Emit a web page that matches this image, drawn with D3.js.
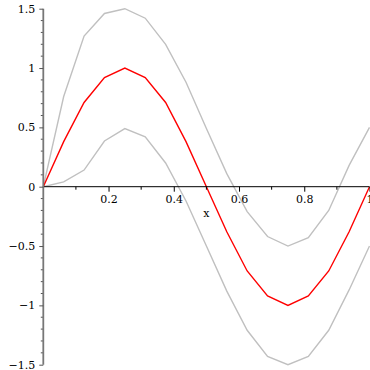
<!DOCTYPE html>
<html>
<head>
<meta charset="utf-8">
<script src="https://cdn.jsdelivr.net/npm/d3@7"></script>
<style>
  body { margin: 0; background: #fff; }
  text { font-family: "DejaVu Serif", serif; font-size: 11px; fill: #000; }
</style>
</head>
<body>
<svg id="chart" width="370" height="370"></svg>
<script>
// sample points x = k/16
var xs = [0, 0.0625, 0.125, 0.1875, 0.25, 0.3125, 0.375, 0.4375, 0.5,
          0.5625, 0.625, 0.6875, 0.75, 0.8125, 0.875, 0.9375, 1];
var mid = [0, 0.38, 0.71, 0.92, 1, 0.92, 0.71, 0.38, 0,
           -0.38, -0.71, -0.92, -1, -0.92, -0.71, -0.38, 0];
var upper = [0, 0.76, 1.27, 1.46, 1.5, 1.42, 1.2, 0.88, 0.49,
             0.11, -0.21, -0.42, -0.5, -0.43, -0.2, 0.18, 0.5];
var lower = [0, 0.04, 0.14, 0.385, 0.49, 0.42, 0.2, -0.12, -0.5,
             -0.88, -1.21, -1.43, -1.5, -1.43, -1.21, -0.87, -0.5];
var xTicks = [0.2, 0.4, 0.6, 0.8, 1];
var yTicks = [-1.5, -1, -0.5, 0, 0.5, 1, 1.5];
var xMinor = [0.1, 0.3, 0.5, 0.7, 0.9];

var svg = d3.select("#chart");

var x = d3.scaleLinear().domain([0, 1]).range([43.3, 369.5]);
var y = d3.scaleLinear().domain([-1.5, 1.5]).range([364.7, 8.7]);

var fmt = function(d) { return d < 0 ? "\u2212" + Math.abs(d) : "" + d; };

// curves
var line = d3.line()
    .x(function(d, i) { return x(xs[i]); })
    .y(function(d) { return y(d); });

svg.append("path").datum(upper)
    .attr("d", line).attr("fill", "none")
    .attr("stroke", "#c0c0c0").attr("stroke-width", 1.4);
svg.append("path").datum(lower)
    .attr("d", line).attr("fill", "none")
    .attr("stroke", "#c0c0c0").attr("stroke-width", 1.4);
svg.append("path").datum(mid)
    .attr("d", line).attr("fill", "none")
    .attr("stroke", "#ff0000").attr("stroke-width", 1.4);

// x axis through y = 0
var xAxis = svg.append("g")
    .attr("transform", "translate(0," + y(0) + ")");
xAxis.call(d3.axisBottom(x).tickValues(xTicks).tickSize(5).tickPadding(4).tickFormat(fmt))
    .call(function(g) { g.select(".domain").attr("stroke", "#000").attr("d", "M" + x(0) + ",0H" + x(1)); });
xAxis.selectAll(".tick text").attr("font-family", "DejaVu Serif").attr("font-size", 11);
xAxis.selectAll(".minor")
    .data(xMinor)
    .enter()
    .append("line")
    .attr("x1", function(d) { return x(d); })
    .attr("x2", function(d) { return x(d); })
    .attr("y1", 0).attr("y2", 3)
    .attr("stroke", "#000");

svg.append("text")
    .attr("x", x(0.5))
    .attr("y", 217)
    .attr("text-anchor", "middle")
    .text("x");

// y axis at x = 0
var yAxis = svg.append("g")
    .attr("transform", "translate(" + x(0) + ",0)");
var yMinor = d3.range(-15, 16).map(function(d) { return d / 10; })
    .filter(function(d) { return Math.round(d * 10) % 5 !== 0; });
yAxis.selectAll(".minor")
    .data(yMinor)
    .enter()
    .append("line")
    .attr("x1", -2.5).attr("x2", 0)
    .attr("y1", function(d) { return y(d); })
    .attr("y2", function(d) { return y(d); })
    .attr("stroke", "#555");
yAxis.call(d3.axisLeft(y).tickValues(yTicks).tickSize(4).tickPadding(4).tickFormat(fmt))
    .call(function(g) {
        g.select(".domain").attr("stroke", "#777").attr("stroke-width", 1.8)
            .attr("d", "M0," + y(-1.5) + "V" + y(1.5));
        g.selectAll(".tick line").attr("stroke", "#555");
    });
yAxis.selectAll(".tick text").attr("font-family", "DejaVu Serif").attr("font-size", 11);
</script>
</body>
</html>
